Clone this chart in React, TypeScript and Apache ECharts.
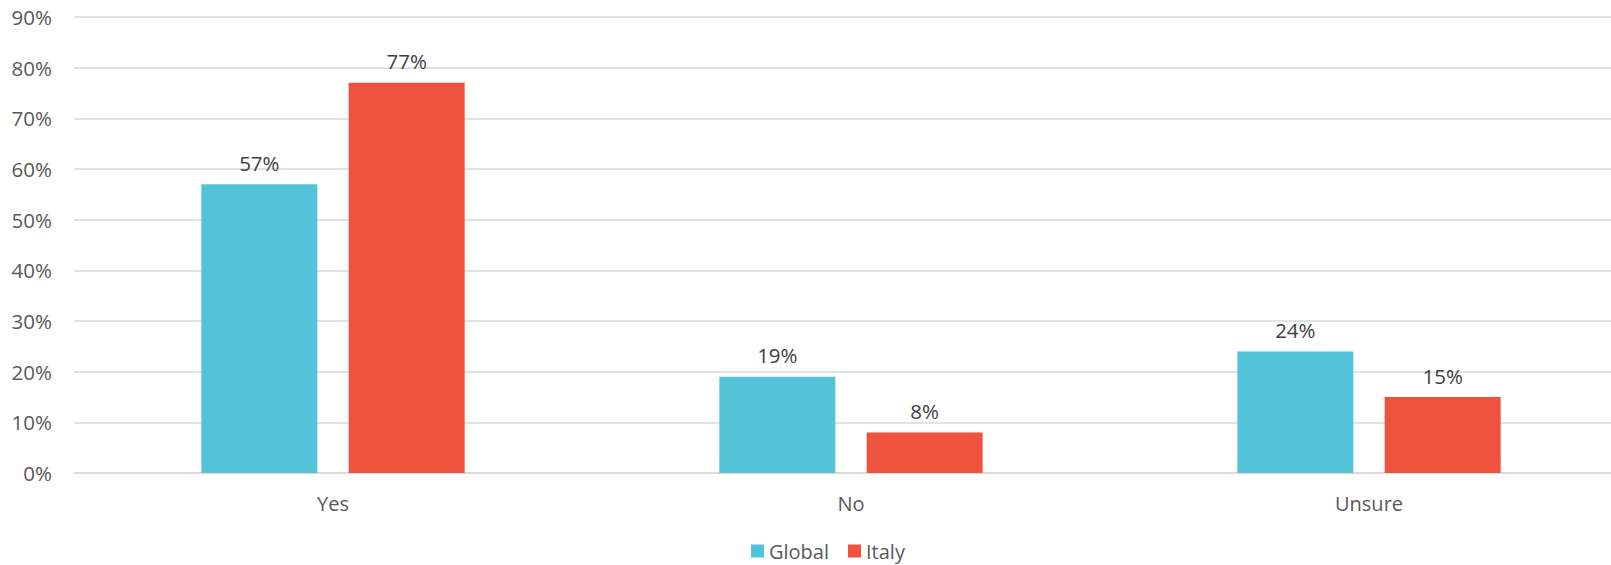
import React, { useEffect, useRef } from "react";
import * as echarts from "echarts";

const categories = ["Yes", "No", "Unsure"];
const globalValues = [57, 19, 24];
const italyValues = [77, 8, 15];
const seriesNames = ["Global", "Italy"];

export default function App() {
  const ref = useRef<HTMLDivElement>(null);
  useEffect(() => {
    if (!ref.current) return;
    const chart = echarts.init(ref.current, null, { renderer: "svg" });
    const font = "'Open Sans', 'Noto Sans', sans-serif";
    const labelCfg = {
      show: true,
      position: "top",
      distance: 11,
      formatter: "{c}%",
      color: "#404040",
      fontSize: 20.5,
      fontFamily: font,
    };
    chart.setOption({
      animation: false,
      backgroundColor: "#ffffff",
      grid: {
        left: 74,
        width: 1554,
        top: 17,
        bottom: 92,
        containLabel: false,
        outerBoundsMode: "none",
      },
      legend: {
        data: seriesNames,
        left: 746,
        top: 536,
        icon: "rect",
        itemWidth: 13,
        itemHeight: 13,
        itemGap: 19,
        textStyle: { color: "#595959", fontSize: 20, fontFamily: font },
      },
      xAxis: {
        type: "category",
        data: categories,
        axisTick: { show: false },
        axisLine: { lineStyle: { color: "#D9D9D9", width: 1.5 } },
        axisLabel: { color: "#595959", fontSize: 20, fontFamily: font, margin: 20 },
      },
      yAxis: {
        type: "value",
        min: 0,
        max: 90,
        interval: 10,
        axisLabel: { formatter: "{value}%", color: "#595959", fontSize: 20.5, fontFamily: font, margin: 22 },
        splitLine: { lineStyle: { color: "#D9D9D9", width: 1.5 } },
        axisLine: { show: false },
        axisTick: { show: false },
      },
      series: [
        {
          name: seriesNames[0],
          type: "bar",
          data: globalValues,
          barWidth: 116,
          barGap: "27%",
          itemStyle: { color: "#53C3D7" },
          label: labelCfg,
        },
        {
          name: seriesNames[1],
          type: "bar",
          data: italyValues,
          barWidth: 116,
          barGap: "27%",
          itemStyle: { color: "#EF523D" },
          label: labelCfg,
        },
      ],
    });
    return () => chart.dispose();
  }, []);
  return (
    <div
      ref={ref}
      style={{ position: "fixed", left: 0, top: 0, width: 1611, height: 565, background: "#fff", overflow: "hidden" }}
    />
  );
}
